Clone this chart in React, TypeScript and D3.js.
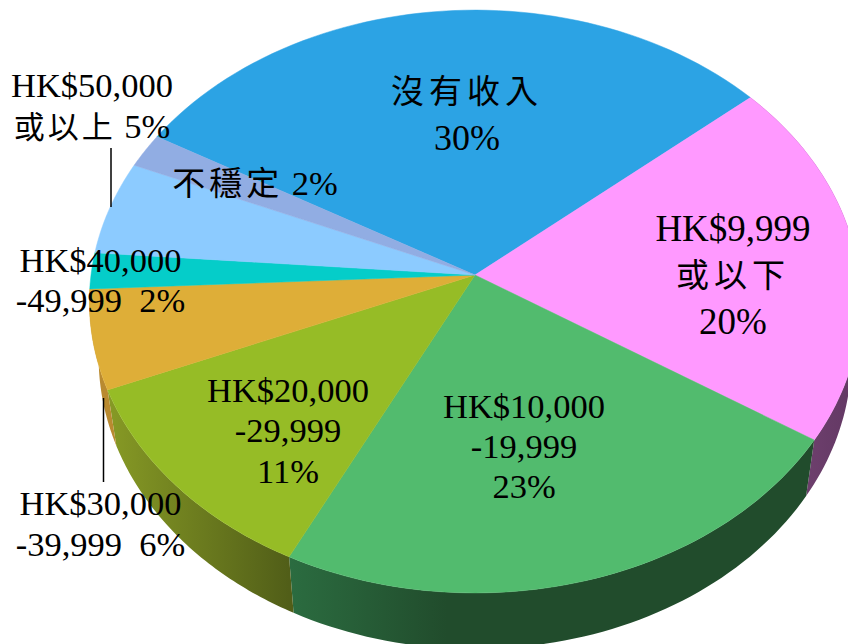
import React from "react";
import * as d3 from "d3";

const categories = ["沒有收入", "HK$9,999或以下", "HK$10,000-19,999", "HK$20,000-29,999", "HK$30,000-39,999", "HK$40,000-49,999", "HK$50,000或以上", "不穩定"];
const drawnShares = [30.4, 20.4, 23.2, 11.4, 5.5, 2.0, 5.2, 1.9];
const topColors = ["#2ca3e4", "#ff99ff", "#52bb6e", "#96bc26", "#deae38", "#05cdc9", "#8ccbff", "#91ade3"];
const sideFrom = ["#2ca3e4", "#7a4878", "#2b6c40", "#879a25", "#b98a30", "#05908c", "#6a9cc8", "#6f85b0"];
const sideTo = ["#2ca3e4", "#613762", "#214c2c", "#515e18", "#b98a30", "#05908c", "#6a9cc8", "#6f85b0"];
const labelLines = [
  { x: 467, size: 36, cjk: 33, gap: 5, ys: [103, 150], t: ["沒有收入", "30%"] },
  { x: 733, size: 37, cjk: 33, gap: 5, ys: [241, 287, 334], t: ["HK$9,999", "或以下", "20%"] },
  { x: 524, size: 34.5, cjk: 33, gap: 5, ys: [418, 458, 498], t: ["HK$10,000", "-19,999", "23%"] },
  { x: 288, size: 34.5, cjk: 33, gap: 5, ys: [402, 442, 483], t: ["HK$20,000", "-29,999", "11%"] },
  { x: 100.5, size: 34.5, cjk: 33, gap: 5, ys: [515, 556], t: ["HK$30,000", "-39,999  6%"] },
  { x: 100.5, size: 34.5, cjk: 33, gap: 5, ys: [272, 312], t: ["HK$40,000", "-49,999  2%"] },
  { x: 92, size: 34.5, cjk: 31, gap: 3, ys: [97, 138], t: ["HK$50,000", "或以上 5%"] },
  { x: 255, size: 34.5, cjk: 33, gap: 4, ys: [195], t: ["不穩定 2%"] },
];
const leaders = [
  { x: 103.5, y1: 398, y2: 482 },
  { x: 111, y1: 148, y2: 207 },
];

const W = 848, H = 644;
const apexX = 475, apexY = 275;
const k = -0.091, a = 289, c = 384;
const depth = 56, shrink = 0.976;

// perspective projection of a unit-circle point onto the tilted pie top
const proj = (theta: number): [number, number] => {
  const X = Math.sin(theta), Y = -Math.cos(theta);
  const d = 1 + k * Y;
  return [apexX + (c * X) / d, apexY + (a * Y) / d];
};
const down = ([x, y]: [number, number]): [number, number] => [apexX + (x - apexX) * shrink, y + depth];

const pieGen = d3.pie<number>().sort(null).value((d) => d)
  .startAngle((-60 * Math.PI) / 180)
  .endAngle((300 * Math.PI) / 180);
const arcs = pieGen(drawnShares);
const line = d3.line();

const sample = (s: number, e: number) => d3.range(0, 61).map((i) => proj(s + ((e - s) * i) / 60));

const runs = (s: string) => s.match(/[\u4e00-\u9fff]+|[^\u4e00-\u9fff]+/g) ?? [];
const isCJK = (s: string) => /[\u4e00-\u9fff]/.test(s);

export default function App() {
  return (
    <svg width={W} height={H} style={{ position: "fixed", left: 0, top: 0, display: "block" }}
      fontFamily="'Liberation Serif','Noto Sans CJK TC',serif">
      <rect width={W} height={H} fill="#fff" />
      <defs>
        {arcs.map((_, i) => {
          const pts = sample(arcs[i].startAngle, arcs[i].endAngle);
          const xs = pts.map((p) => p[0]);
          const x0 = d3.min(xs)!, x1 = d3.max(xs)!;
          return (
            <linearGradient key={i} id={`side${i}`} gradientUnits="userSpaceOnUse" x1={x0} x2={x1} y1={0} y2={0}>
              <stop offset="0" stopColor={sideFrom[i]} />
              <stop offset={i === 2 ? 0.3 : 1} stopColor={sideTo[i]} />
            </linearGradient>
          );
        })}
      </defs>
      {arcs.map((d, i) => {
        if (i < 1 || i > 4) return null;
        const top = sample(d.startAngle, d.endAngle);
        const bot = top.map(down).reverse();
        return <path key={i} d={line([...top, ...bot])! + "Z"} fill={`url(#side${i})`} />;
      })}
      {arcs.map((d, i) => (
        <path key={i} d={line([[apexX, apexY], ...sample(d.startAngle, d.endAngle)])! + "Z"}
          fill={topColors[i]} stroke={topColors[i]} strokeWidth={0.5} />
      ))}
      {leaders.map((l, i) => (
        <line key={i} x1={l.x} x2={l.x} y1={l.y1} y2={l.y2} stroke="#000" strokeWidth={1.5} />
      ))}
      {labelLines.map((l, i) =>
        l.t.map((s, j) => (
          <text key={`${i}-${j}`} x={l.x} y={l.ys[j]} textAnchor="middle" fill="#000"
            fontSize={l.size} style={{ whiteSpace: "pre" }}>
            {runs(s).map((r, m) =>
              isCJK(r) ? (
                <tspan key={m} fontSize={l.cjk} letterSpacing={l.gap}>{r}</tspan>
              ) : (
                <tspan key={m}>{r}</tspan>
              )
            )}
          </text>
        ))
      )}
    </svg>
  );
}
